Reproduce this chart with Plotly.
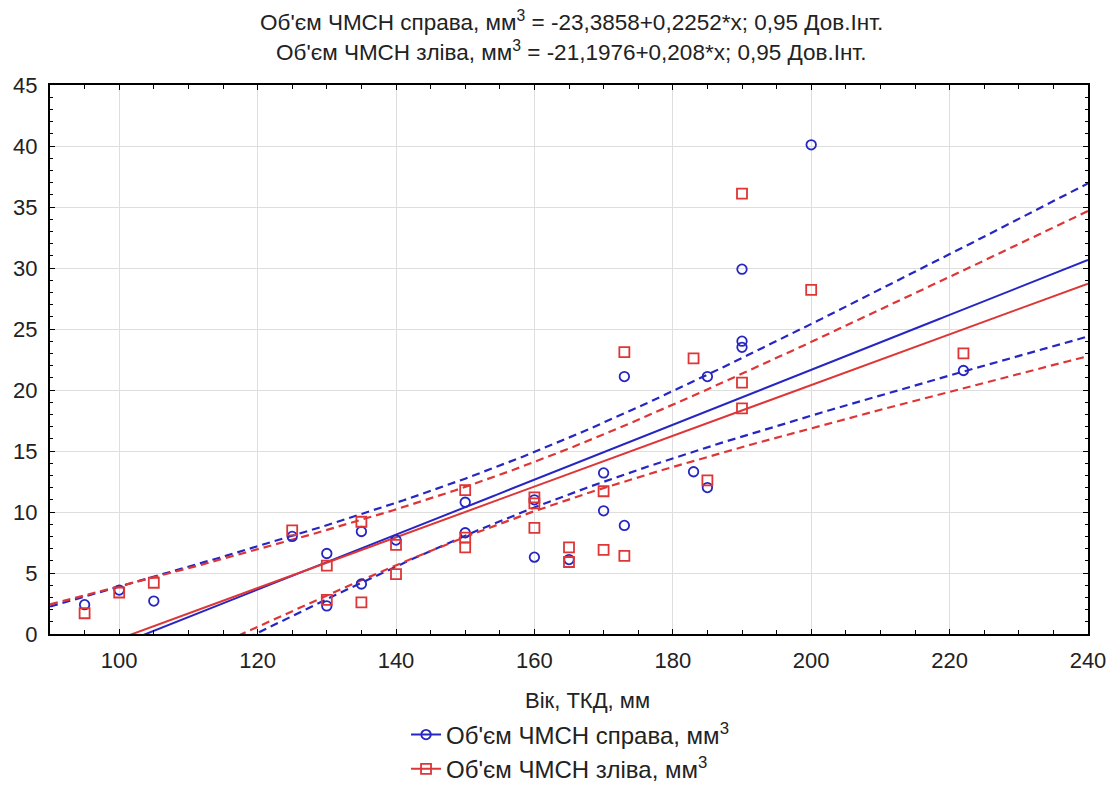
import numpy as np
import plotly.graph_objects as go

# Blue: Об'єм ЧМСН справа
x_right = [95, 100, 105, 125, 130, 130, 135, 135, 140, 150, 150, 160, 160, 165, 170, 170,
           173, 173, 183, 185, 185, 190, 190, 190, 200, 222]
y_right = [2.4, 3.6, 2.7, 8.0, 6.6, 2.3, 8.4, 4.1, 7.7, 10.8, 8.3, 6.3, 11.0, 6.1, 13.2, 10.1,
           21.1, 8.9, 13.3, 12.0, 21.1, 29.9, 24.0, 23.5, 40.1, 21.6]
# Red: Об'єм ЧМСН зліва
x_left = [95, 100, 105, 125, 130, 130, 135, 135, 140, 140, 150, 150, 150, 160, 160, 160,
          165, 165, 170, 170, 173, 173, 183, 185, 190, 190, 190, 200, 222]
y_left = [1.7, 3.4, 4.2, 8.5, 5.6, 2.8, 9.2, 2.6, 7.3, 4.9, 11.8, 7.9, 7.1, 11.2, 10.7, 8.7,
          7.1, 5.9, 11.7, 6.9, 23.1, 6.4, 22.6, 12.6, 36.1, 20.6, 18.5, 28.2, 23.0]

coef_right = (-23.3858, 0.2252)
coef_left = (-21.1976, 0.208)
x_ticks = [100, 120, 140, 160, 180, 200, 220, 240]
y_ticks = [0, 5, 10, 15, 20, 25, 30, 35, 40, 45]

name_right = "Об'єм ЧМСН справа, мм<sup>3</sup>"
name_left = "Об'єм ЧМСН зліва, мм<sup>3</sup>"
title_1 = "Об'єм ЧМСН справа, мм<sup>3</sup> = -23,3858+0,2252*x; 0,95 Дов.Інт."
title_2 = "Об'єм ЧМСН зліва, мм<sup>3</sup> = -21,1976+0,208*x; 0,95 Дов.Інт."
x_title = "Вік, ТКД, мм"

BLUE = "#2626c2"
RED = "#de3636"
TXT = "#222222"
FONT = "Liberation Sans, Arial, sans-serif"

def bands(xs, ys, coef, xg, t=1.92):
    xs = np.asarray(xs, float); ys = np.asarray(ys, float)
    a, b = coef
    res = ys - (a + b * xs)
    n = len(xs)
    s = np.sqrt(np.sum(res ** 2) / (n - 2))
    xm = xs.mean()
    sxx = np.sum((xs - xm) ** 2)
    fit = a + b * xg
    hw = t * s * np.sqrt(1.0 / n + (xg - xm) ** 2 / sxx)
    return fit, fit - hw, fit + hw

xg = np.linspace(90, 240, 301)
fig = go.Figure()

for xs, ys, coef, col in [
    (x_right, y_right, coef_right, BLUE),
    (x_left, y_left, coef_left, RED),
]:
    fit, lo, hi = bands(xs, ys, coef, xg)
    fig.add_trace(go.Scatter(x=xg, y=fit, mode="lines", line=dict(color=col, width=2),
                             showlegend=False, hoverinfo="skip"))
    for yy in (lo, hi):
        fig.add_trace(go.Scatter(x=xg, y=yy, mode="lines",
                                 line=dict(color=col, width=2.2, dash="8px,5px"),
                                 showlegend=False, hoverinfo="skip"))

for xs, ys, col, sym, sz, nm in [
    (x_right, y_right, BLUE, "circle-open", 9.5, name_right),
    (x_left, y_left, RED, "square-open", 10, name_left),
]:
    fig.add_trace(go.Scatter(x=xs, y=ys, mode="markers",
                             marker=dict(symbol=sym, size=sz, color=col, line=dict(width=1.8, color=col)),
                             showlegend=False))
    fig.add_trace(go.Scatter(x=[None], y=[None], mode="lines+markers", name=nm,
                             line=dict(color=col, width=2),
                             marker=dict(symbol=sym, size=sz, color=col, line=dict(width=1.8, color=col))))

fig.update_layout(
    width=1112, height=777,
    paper_bgcolor="white", plot_bgcolor="white",
    font=dict(family=FONT, size=20, color=TXT),
    margin=dict(l=42, r=32, t=77, b=151, autoexpand=False),
    legend=dict(x=0.343, xanchor="left", y=-0.143, yanchor="top", orientation="v",
                font=dict(size=24, color=TXT), bgcolor="rgba(0,0,0,0)", tracegroupgap=0),
    showlegend=True,
    annotations=[
        dict(text=title_1, x=0.502, y=1.117, xref="paper", yref="paper",
             xanchor="center", yanchor="middle", showarrow=False, font=dict(size=22.5, color=TXT)),
        dict(text=title_2, x=0.502, y=1.0619, xref="paper", yref="paper",
             xanchor="center", yanchor="middle", showarrow=False, font=dict(size=22.5, color=TXT)),
        dict(text=x_title, x=0.518, y=-0.1205, xref="paper", yref="paper",
             xanchor="center", yanchor="middle", showarrow=False, font=dict(size=22, color=TXT)),
    ],
)
fig.update_xaxes(
    range=[90, 240], tickvals=x_ticks, ticktext=[str(v) for v in x_ticks],
    showgrid=True, gridcolor="#dedede", gridwidth=1,
    showline=True, linecolor="black", linewidth=2, mirror="ticks",
    ticks="inside", ticklen=5, tickcolor="black",
    minor=dict(dtick=5, tick0=0, ticks="inside", ticklen=4, tickcolor="black", showgrid=False),
    zeroline=False, ticklabelstandoff=6, automargin=False,
    tickfont=dict(size=22),
)
fig.update_yaxes(
    range=[0, 45], tickvals=y_ticks, ticktext=[str(v) for v in y_ticks],
    showgrid=True, gridcolor="#dedede", gridwidth=1,
    showline=True, linecolor="black", linewidth=2, mirror="ticks",
    ticks="inside", ticklen=5, tickcolor="black",
    minor=dict(dtick=1, tick0=0, ticks="inside", ticklen=3, tickcolor="black", showgrid=False),
    zeroline=False, ticklabelstandoff=6, automargin=False,
    tickfont=dict(size=22),
)

fig.write_html("out.html")
